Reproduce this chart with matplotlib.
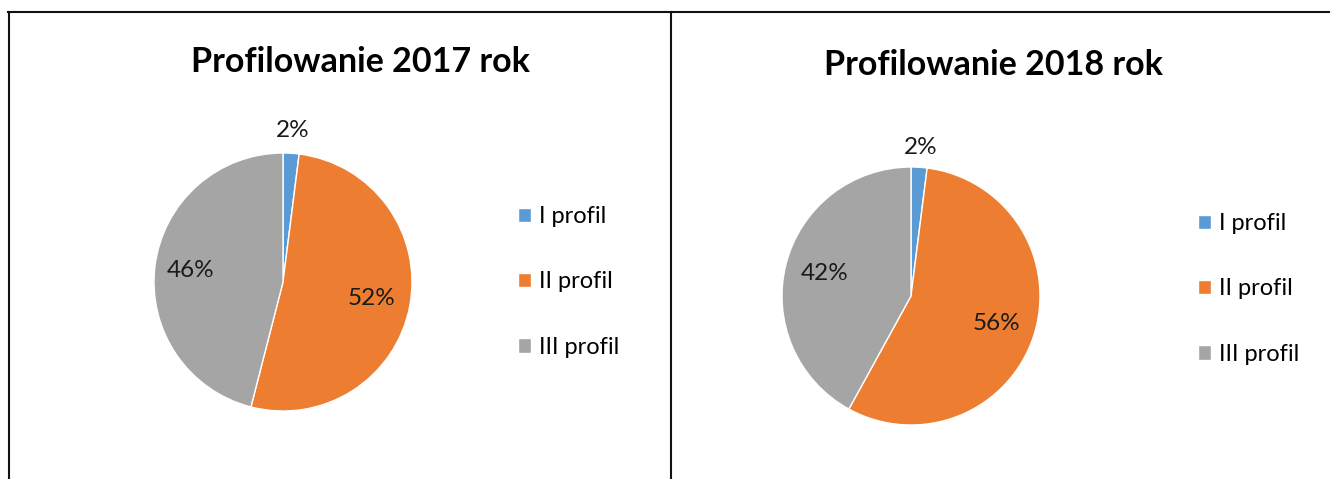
import numpy as np
import matplotlib
matplotlib.use('Agg')
import matplotlib.pyplot as plt
from matplotlib.lines import Line2D

plt.rcParams['font.family'] = ['Lato', 'DejaVu Sans']

labels = ['I profil', 'II profil', 'III profil']
colors = ['#5B9BD5', '#ED7D31', '#A5A5A5']
titles = ['Profilowanie 2017 rok', 'Profilowanie 2018 rok']
values_2017 = [2, 52, 46]
values_2018 = [2, 56, 42]
# label radius per slice (fraction of pie radius)
label_r_2017 = [1.18, 0.70, 0.72]
label_r_2018 = [1.15, 0.70, 0.69]

W, H = 1330, 479
fig = plt.figure(figsize=(W / 100, H / 100), dpi=100)


def draw(cx, cy, r, values, label_r, title, title_x, title_y, leg_x, leg_y):
    ax = fig.add_axes([(cx - r) / W, (H - cy - r) / H, 2 * r / W, 2 * r / H])
    wedges, _ = ax.pie(values, colors=colors, startangle=90, counterclock=False,
                       wedgeprops=dict(edgecolor='white', linewidth=1))
    ax.set_xlim(-1, 1)
    ax.set_ylim(-1, 1)
    total = sum(values)
    for w, v, lr in zip(wedges, values, label_r):
        mid = np.deg2rad((w.theta1 + w.theta2) / 2)
        ax.text(lr * np.cos(mid), lr * np.sin(mid), f'{round(100 * v / total)}%',
                ha='center', va='center', fontsize=17.5, color='#1a1a1a')
    fig.text(title_x / W, 1 - title_y / H, title, ha='center', va='center',
             fontsize=24.5, fontweight='bold')
    fig.legend(wedges, labels, loc='upper left', bbox_to_anchor=(leg_x / W, 1 - leg_y / H),
               frameon=False, fontsize=17, handlelength=0.55, handleheight=0.55,
               handletextpad=0.35, labelspacing=1.88, borderpad=0, borderaxespad=0)


draw(283, 282, 129, values_2017, label_r_2017, titles[0], 360, 62, 518, 206)
draw(911, 296, 129, values_2018, label_r_2018, titles[1], 993, 65, 1198, 213)

# chart frames
lc = '#111111'
fig.add_artist(Line2D([8.5 / W, 8.5 / W], [0, 1 - 12 / H], color=lc, lw=1.5))
fig.add_artist(Line2D([670.5 / W, 670.5 / W], [0, 1 - 12 / H], color=lc, lw=1.5))
fig.add_artist(Line2D([8 / W, 1], [1 - 12 / H, 1 - 12 / H], color=lc, lw=1.5))

fig.savefig('out.png', dpi=100)
